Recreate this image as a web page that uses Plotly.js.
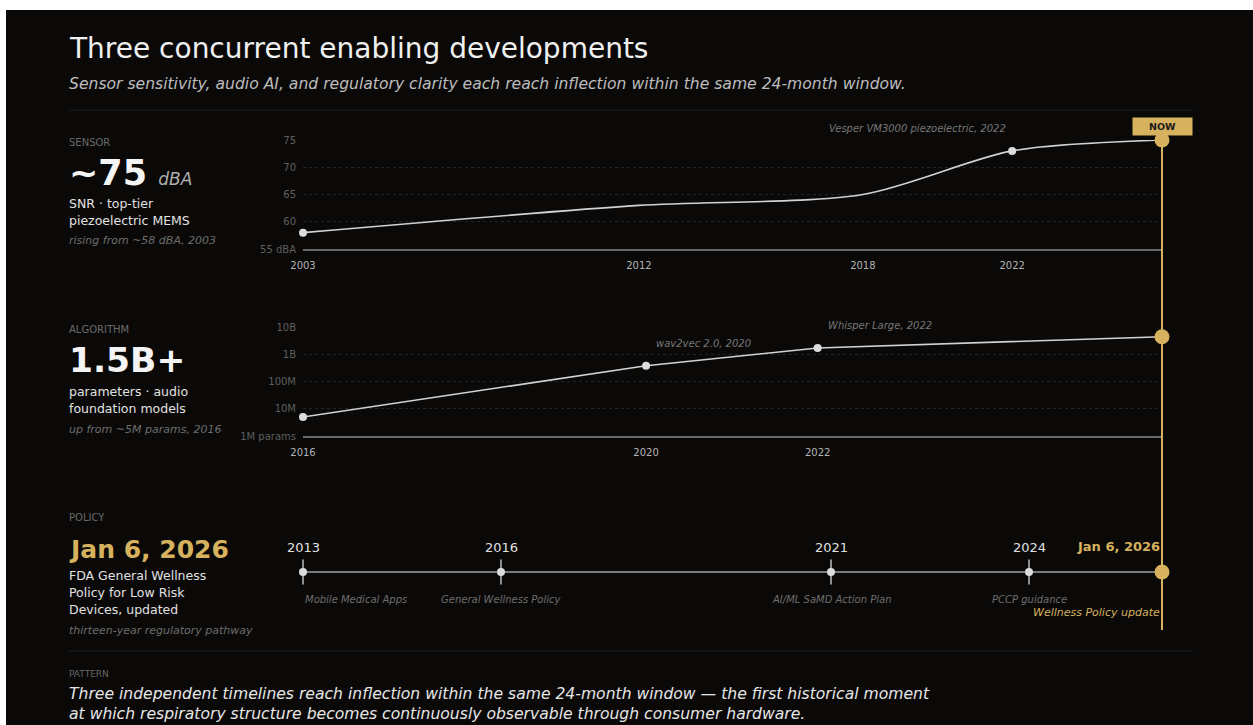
<!DOCTYPE html>
<html><head><meta charset="utf-8">
<script src="https://cdn.plot.ly/plotly-3.0.1.min.js"></script>
<style>
html,body{margin:0;padding:0;background:#ffffff;overflow:hidden;}
#chart{position:absolute;left:6px;top:10px;width:1247px;height:715px;}
</style></head><body><div id="chart"></div>
<script>
// ---- data ----
const sensorYears = [2003, 2012, 2018, 2022, 2026.015];
const sensorSNR = [58, 63, 65, 73, 75];
const sensorMilestoneIdx = [0, 3];
const sensorTickYears = [2003, 2012, 2018, 2022];
const sensorTickVals = [55, 60, 65, 70, 75];
const sensorTickText = ["55 dBA", "60", "65", "70", "75"];
const sensorNote = "Vesper VM3000 piezoelectric, 2022";

const algoYears = [2016, 2020, 2022, 2026.015];
const algoParams = [5e6, 3.8e8, 1.7e9, 4.4e9];
const algoMilestoneIdx = [0, 1, 2];
const algoTickYears = [2016, 2020, 2022];
const algoTickVals = [1e6, 1e7, 1e8, 1e9, 1e10];
const algoTickText = ["1M params", "10M", "100M", "1B", "10B"];
const algoNotes = [[1, "wav2vec 2.0, 2020"], [2, "Whisper Large, 2022"]];

const policyYears = [2013, 2016, 2021, 2024];
const policyYearText = ["2013", "2016", "2021", "2024"];
const policyLabels = ["Mobile Medical Apps", "General Wellness Policy", "AI/ML SaMD Action Plan", "PCCP guidance"];
const nowYear = 2026.015;
const nowLabel = "Jan 6, 2026";
const nowPolicyLabel = "Wellness Policy update";

// ---- style ----
const W = 1247, H = 715, OX = 6, OY = 10;
const px = x => (x - OX) / W;
const py = y => 1 - (y - OY) / H;
const GOLD = "#d6b15e";
const BG = "#0a0908";
const FONT = "DejaVu Sans, sans-serif";
const LINE = "#d2d2d2";
const DOT = "#dcdcdc";

const traces = [];
// sensor
traces.push({x: sensorYears, y: sensorSNR, xaxis: "x", yaxis: "y", mode: "lines",
  line: {shape: "spline", smoothing: 0.8, color: LINE, width: 1.6}, cliponaxis: false});
traces.push({x: sensorMilestoneIdx.map(i => sensorYears[i]), y: sensorMilestoneIdx.map(i => sensorSNR[i]),
  xaxis: "x", yaxis: "y", mode: "markers", marker: {size: 8, color: DOT}, cliponaxis: false});
// algorithm
traces.push({x: algoYears, y: algoParams, xaxis: "x2", yaxis: "y2", mode: "lines",
  line: {color: LINE, width: 1.6}, cliponaxis: false});
traces.push({x: algoMilestoneIdx.map(i => algoYears[i]), y: algoMilestoneIdx.map(i => algoParams[i]),
  xaxis: "x2", yaxis: "y2", mode: "markers", marker: {size: 8, color: DOT}, cliponaxis: false});
// policy
traces.push({x: [policyYears[0], nowYear], y: [0, 0], xaxis: "x3", yaxis: "y3", mode: "lines",
  line: {color: "#a0a0a0", width: 1.5}, cliponaxis: false});
traces.push({x: policyYears, y: policyYears.map(() => 0), xaxis: "x3", yaxis: "y3", mode: "markers",
  marker: {symbol: "line-ns-open", size: 18, color: "#bdbdbd", line: {color: "#bdbdbd", width: 1.5}}, cliponaxis: false});
traces.push({x: policyYears, y: policyYears.map(() => 0), xaxis: "x3", yaxis: "y3", mode: "markers",
  marker: {size: 8, color: DOT}, cliponaxis: false});

const xDom = [px(303), px(1162)];
// policy axis padded on the right so the NOW rule is not clipped at the edge
const padYears = 0.5;
const xDom3 = [xDom[0], xDom[1] + (xDom[1] - xDom[0]) * padYears / (nowYear - policyYears[0])];
const tickFontY = {family: FONT, size: 10, color: "#5f5f5f"};
const tickFontX = {family: FONT, size: 10, color: "#b4b4b4"};

const ann = [];
function txt(x, y, text, size, color, opts) {
  ann.push(Object.assign({xref: "paper", yref: "paper", x: px(x - 2), y: py(y), text: text, showarrow: false,
    xanchor: "left", yanchor: "middle", font: {family: FONT, size: size, color: color}}, opts || {}));
}
txt(69, 48, "Three concurrent enabling developments", 28, "#f0f0f0");
txt(69, 84, "<i>Sensor sensitivity, audio AI, and regulatory clarity each reach inflection within the same 24-month window.</i>", 15.6, "#bdbdbd");

txt(69, 142, "SENSOR", 10, "#6a6a6a");
txt(69, 173, "<b>~75</b> <i><span style='font-size:17px;font-weight:normal;color:#b0b0b0'>dBA</span></i>", 35, "#f4f4f4");
txt(69, 203, "SNR · top-tier", 12.5, "#e2e2e2");
txt(69, 220, "piezoelectric MEMS", 12.5, "#e2e2e2");
txt(69, 241, "<i>rising from ~58 dBA, 2003</i>", 11, "#6c6c6c");

txt(69, 329, "ALGORITHM", 10, "#6a6a6a");
txt(69, 360, "<b>1.5B+</b>", 34.5, "#f4f4f4");
txt(69, 391, "parameters · audio", 12.5, "#e2e2e2");
txt(69, 408, "foundation models", 12.5, "#e2e2e2");
txt(69, 429, "<i>up from ~5M params, 2016</i>", 11, "#6c6c6c");

txt(69, 517, "POLICY", 10, "#6a6a6a");
txt(69, 549, "<b>" + nowLabel + "</b>", 25, GOLD);
txt(69, 575, "FDA General Wellness", 12.5, "#e2e2e2");
txt(69, 592, "Policy for Low Risk", 12.5, "#e2e2e2");
txt(69, 609, "Devices, updated", 12.5, "#e2e2e2");
txt(69, 630, "<i>thirteen-year regulatory pathway</i>", 11, "#6c6c6c");

txt(69, 674, "PATTERN", 9, "#666666");
txt(69, 694, "<i>Three independent timelines reach inflection within the same 24-month window — the first historical moment</i>", 15.6, "#e6e6e6");
txt(69, 714, "<i>at which respiratory structure becomes continuously observable through consumer hardware.</i>", 15.6, "#e6e6e6");

// chart notes
ann.push({xref: "x", yref: "y", x: sensorYears[3], y: sensorSNR[3], yshift: 22, xshift: -4, xanchor: "right", yanchor: "middle",
  text: "<i>" + sensorNote + "</i>", showarrow: false, font: {family: FONT, size: 10, color: "#777777"}});
algoNotes.forEach(([i, t]) => ann.push({xref: "x2", yref: "y2", x: algoYears[i], y: Math.log10(algoParams[i]),
  yshift: 22, xshift: 8, xanchor: "left", yanchor: "middle", text: "<i>" + t + "</i>", showarrow: false,
  font: {family: FONT, size: 10, color: "#777777"}}));
policyYears.forEach((yr, i) => {
  ann.push({xref: "x3", yref: "y3", x: yr, y: 0, yshift: 25, xanchor: "center", yanchor: "middle",
    text: policyYearText[i], showarrow: false, font: {family: FONT, size: 13, color: "#e0e0e0"}});
  ann.push({xref: "x3", yref: "y3", x: yr, y: 0, yshift: -27, xanchor: i === 0 ? "left" : "center", yanchor: "middle",
    text: "<i>" + policyLabels[i] + "</i>", showarrow: false, font: {family: FONT, size: 10, color: "#6e6e6e"}});
});
ann.push({xref: "x3", yref: "y3", x: nowYear, y: 0, yshift: 26, xanchor: "right", yanchor: "middle",
  text: "<b>" + nowLabel + "</b>", showarrow: false, font: {family: FONT, size: 13, color: GOLD}});
ann.push({xref: "x3", yref: "y3", x: nowYear, y: 0, yshift: -40, xanchor: "right", yanchor: "middle",
  text: "<i>" + nowPolicyLabel + "</i>", showarrow: false, font: {family: FONT, size: 11, color: GOLD}});
// NOW badge
ann.push({xref: "x3", yref: "paper", x: nowYear, y: py(126.5), xanchor: "center", yanchor: "middle",
  text: "<b>NOW</b>", showarrow: false, bgcolor: GOLD, width: 55, height: 13, borderpad: 2,
  font: {family: FONT, size: 9.5, color: "#1a1a1a"}});

const shapes = [
  {type: "line", xref: "paper", yref: "paper", x0: px(69), x1: px(1193), y0: py(110), y1: py(110), line: {color: "#1f1f1f", width: 1}},
  {type: "line", xref: "paper", yref: "paper", x0: px(69), x1: px(1193), y0: py(651), y1: py(651), line: {color: "#1f1f1f", width: 1}},
  {type: "line", xref: "x3", yref: "paper", x0: nowYear, x1: nowYear, y0: py(630), y1: py(135),
   line: {color: GOLD, width: 2}, layer: "above"}
];

// gold NOW markers drawn last
traces.push({x: [sensorYears[sensorYears.length - 1]], y: [sensorSNR[sensorSNR.length - 1]],
  xaxis: "x", yaxis: "y", mode: "markers", marker: {size: 15, color: GOLD}, cliponaxis: false});
traces.push({x: [algoYears[algoYears.length - 1]], y: [algoParams[algoParams.length - 1]],
  xaxis: "x2", yaxis: "y2", mode: "markers", marker: {size: 15, color: GOLD}, cliponaxis: false});
traces.push({x: [nowYear], y: [0], xaxis: "x3", yaxis: "y3", mode: "markers",
  marker: {size: 15, color: GOLD}, cliponaxis: false});

const layout = {
  width: W, height: H, margin: {l: 0, r: 0, t: 0, b: 0},
  paper_bgcolor: BG, plot_bgcolor: BG, showlegend: false, hovermode: false,
  font: {family: FONT},
  xaxis: {domain: xDom, range: [sensorYears[0], nowYear], anchor: "y", showgrid: false, zeroline: false,
    showline: true, linecolor: "#6a6a6a", linewidth: 1.5, tickvals: sensorTickYears, ticktext: sensorTickYears.map(String),
    ticks: "", tickfont: tickFontX, ticklabelstandoff: 6},
  yaxis: {domain: [py(249), py(140)], range: [55, 75], anchor: "x", showgrid: true, gridcolor: "#242424", griddash: "dot",
    gridwidth: 1, zeroline: false, showline: false, tickvals: sensorTickVals, ticktext: sensorTickText, ticks: "",
    tickfont: tickFontY, ticklabelstandoff: 6},
  xaxis2: {domain: xDom, range: [algoYears[0], nowYear], anchor: "y2", showgrid: false, zeroline: false,
    showline: true, linecolor: "#6a6a6a", linewidth: 1.5, tickvals: algoTickYears, ticktext: algoTickYears.map(String),
    ticks: "", tickfont: tickFontX, ticklabelstandoff: 6},
  yaxis2: {domain: [py(436), py(327)], type: "log", range: [6, 10], anchor: "x2", showgrid: true, gridcolor: "#242424",
    griddash: "dot", gridwidth: 1, zeroline: false, showline: false, tickvals: algoTickVals, ticktext: algoTickText,
    ticks: "", tickfont: tickFontY, ticklabelstandoff: 6},
  xaxis3: {domain: xDom3, range: [policyYears[0], nowYear + padYears], anchor: "y3", visible: false},
  yaxis3: {domain: [py(600), py(544)], range: [-1, 1], anchor: "x3", visible: false},
  annotations: ann, shapes: shapes
};
Plotly.newPlot("chart", traces, layout, {staticPlot: true, displayModeBar: false});
</script></body></html>
